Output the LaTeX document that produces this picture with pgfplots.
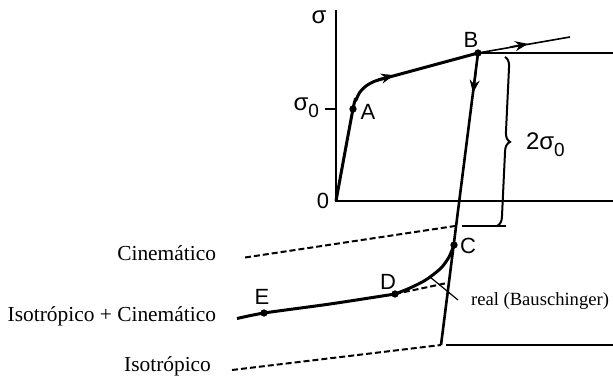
\documentclass[border=0pt]{standalone}
\usepackage{pgfplots}
\pgfplotsset{compat=1.18}
\usepackage{fontspec}
\setmainfont{Liberation Serif}
\newfontfamily\lab{Liberation Sans}
\usetikzlibrary{arrows.meta,decorations.pathreplacing}

\newcommand{\sub}[1]{\raisebox{-0.55ex}{\fontsize{9.5}{10}\selectfont #1}}

\begin{document}
\begin{tikzpicture}
\begin{axis}[
  x=0.5pt, y=0.5pt, y dir=reverse,
  xmin=0, xmax=613, ymin=0, ymax=379,
  hide axis, clip=false,
  every axis plot/.append style={black},
  every node/.append style={inner sep=0.5pt},
]
% stress axis, strain axis and the sigma_0 tick
\addplot[line width=0.7pt] coordinates {(336,10) (336,201) (613,201)};
\addplot[line width=0.7pt] coordinates {(325,109) (336,109)};

% reference levels: +sigma at B, lower level of the 2 sigma_0 range, isotropic level
\addplot[line width=0.6pt] coordinates {(478,53) (613,53)};
\addplot[line width=0.6pt] coordinates {(462,226) (506,226)};
\addplot[line width=0.6pt] coordinates {(446,345) (613,345)};

% monotonic loading O - A - B
\addplot[line width=1.5pt, smooth, tension=0.5] coordinates {
  (336,201) (353,109) (356,100) (360,92) (366,86) (374,81.5) (385,78.2)};
\addplot[line width=1.5pt] coordinates {(385,78.2) (478,53)};
% continued hardening beyond B
\addplot[line width=0.8pt] coordinates {(478,53) (570,37)};

% elastic unloading from B
\addplot[line width=1.3pt] coordinates {(478,53) (441,345)};

% reverse plastic flow C - D - E
\addplot[line width=1.5pt, smooth, tension=0.5] coordinates {
  (454,245) (449,257) (442,267) (434,274) (424,281) (410,288) (395,294)};
\addplot[line width=1.5pt, smooth, tension=0.4] coordinates {
  (395,294) (330,304) (264,313) (237,318.5)};

% extension of the isotropic + kinematic branch
\addplot[line width=1pt, dash pattern=on 3pt off 1.5pt] coordinates {(395,294) (447,283)};

% kinematic and isotropic yield levels
\addplot[line width=1pt, dash pattern=on 3pt off 1.5pt] coordinates {(245,257.5) (455,226)};
\addplot[line width=1pt, dash pattern=on 3pt off 1.5pt] coordinates {(232,370) (441,345)};

% leader of the Bauschinger curve
\addplot[line width=0.6pt] coordinates {(430,277) (458,300)};

% direction arrows
\addplot[line width=1pt, -{Stealth[length=6.5pt,width=5pt]}] coordinates {(378,79.5) (394,75.2)};
\addplot[line width=0.8pt, -{Stealth[length=6.5pt,width=5pt]}] coordinates {(510,47) (528,43.9)};
\addplot[line width=1pt, -{Stealth[length=6.5pt,width=5pt]}] coordinates {(476,70) (473,93)};

% marked states
\addplot[only marks, mark=*, mark size=1.6pt] coordinates {
  (353,109) (478,53) (454,245) (395,294) (264,313)};

% ends of the 2 sigma_0 brace, and the corners of the drawing area
\coordinate (braceTop) at (505,57);
\coordinate (braceBot) at (497,226);
\coordinate (cornerA) at (0,0);
\coordinate (cornerB) at (613,379);

% labels
\node[font=\lab\fontsize{12}{13}\selectfont] at (319,17) {σ};
\node[font=\lab\fontsize{12}{13}\selectfont, anchor=east] at (326,108) {σ\sub{0}};
\node[font=\lab\fontsize{11}{13}\selectfont] at (323,201) {0};
\node[font=\lab\fontsize{11}{13}\selectfont] at (368,112) {A};
\node[font=\lab\fontsize{11}{13}\selectfont] at (471,40) {B};
\node[font=\lab\fontsize{11}{13}\selectfont] at (468,246) {C};
\node[font=\lab\fontsize{11}{13}\selectfont] at (388,282) {D};
\node[font=\lab\fontsize{11}{13}\selectfont] at (262,297) {E};
\node[font=\lab\fontsize{12}{13}\selectfont, anchor=west] at (519,145) {2σ\sub{0}};

\node[font=\fontsize{10.7}{12}\selectfont, anchor=east] at (223,253) {Cinemático};
\node[font=\fontsize{10.7}{12}\selectfont, anchor=east] at (223,316) {Isotrópico + Cinemático};
\node[font=\fontsize{10.7}{12}\selectfont, anchor=east] at (218,366) {Isotrópico};
\node[font=\fontsize{9.3}{12}\selectfont, anchor=west] at (464,301) {real (Bauschinger)};
\end{axis}
\draw[decorate, decoration={brace, amplitude=4.5pt}, line width=1pt]
  (braceTop) -- (braceBot);
\pgfresetboundingbox
\path[use as bounding box] (cornerA) rectangle (cornerB);
\end{tikzpicture}
\end{document}
